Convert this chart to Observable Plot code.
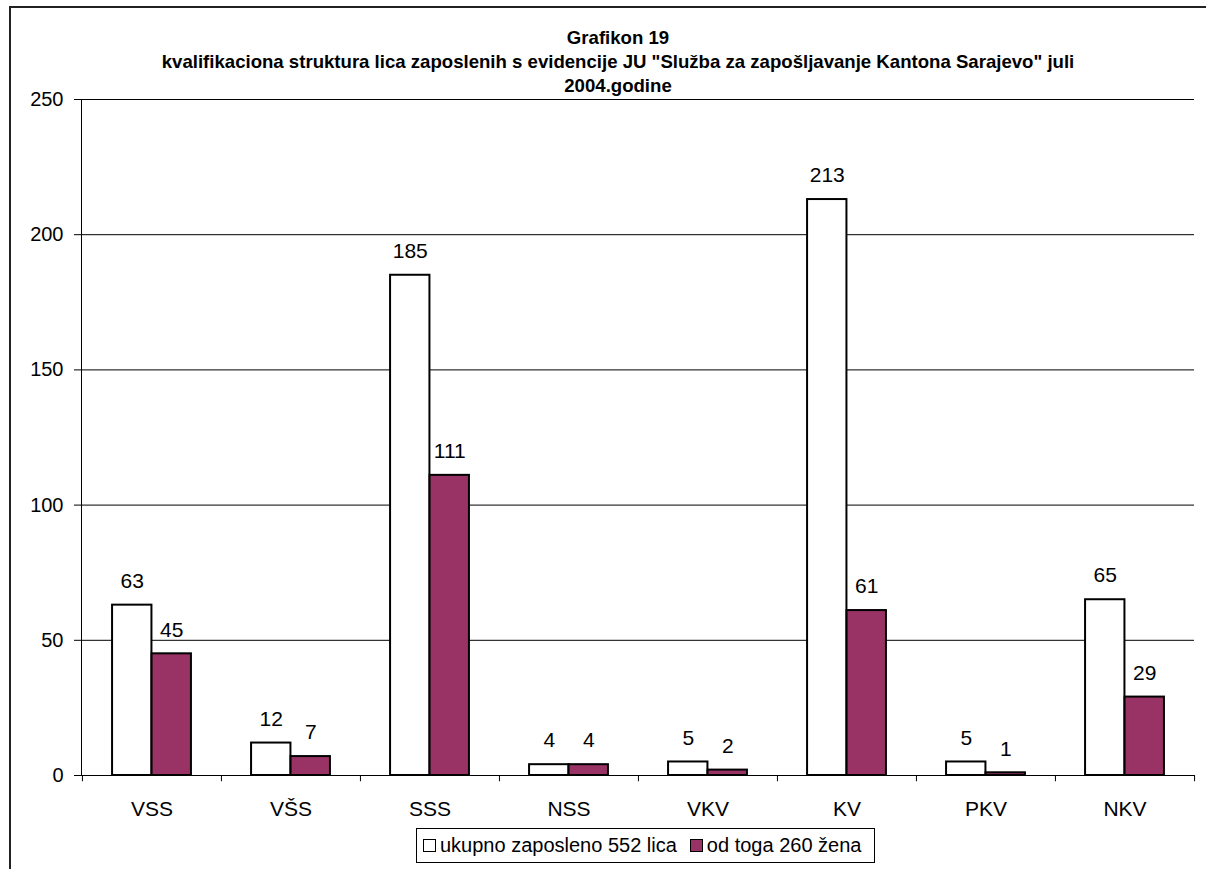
<!DOCTYPE html>
<html>
<head>
<meta charset="utf-8">
<script src="https://cdn.jsdelivr.net/npm/d3@7"></script>
<script src="https://cdn.jsdelivr.net/npm/@observablehq/plot@0.6"></script>
<style>
  html, body { margin: 0; padding: 0; background: #fff; }
  body { width: 1206px; height: 869px; overflow: hidden; font-family: "Liberation Sans", Arial, sans-serif; }
  #wrap { position: relative; width: 1206px; height: 869px; }
  #frame { position: absolute; left: 9px; top: 6px; width: 1300px; height: 1000px; border-left: 2px solid #222; border-top: 2px solid #222; box-sizing: border-box; }
  #title { position: absolute; left: 118px; width: 1000px; top: 26px; text-align: center; font-weight: bold; font-size: 18.6px; line-height: 24px; color: #000; }
  #chart { position: absolute; left: 0; top: 0; }
  #legend { position: absolute; left: 416px; top: 828px; width: 459px; height: 35px; border: 1px solid #000; box-sizing: border-box; font-size: 20px; display: flex; align-items: center; padding-left: 6px; color: #000; white-space: nowrap; }
  .sw { display: inline-block; width: 13px; height: 13px; border: 1.5px solid #000; box-sizing: border-box; margin-right: 4px; }
  .item { display: flex; align-items: center; margin-right: 13px; }
</style>
</head>
<body>
<div id="wrap">
  <div id="frame"></div>
  <div id="title"></div>
  <div id="chart"></div>
  <div id="legend"></div>
</div>
<script>
const titleLines = ["Grafikon 19", "kvalifikaciona struktura lica zaposlenih s evidencije JU \"Služba za zapošljavanje Kantona Sarajevo\" juli", "2004.godine"];
const categories = ["VSS", "VŠS", "SSS", "NSS", "VKV", "KV", "PKV", "NKV"];
const totalValues = [63, 12, 185, 4, 5, 213, 5, 65];
const womenValues = [45, 7, 111, 4, 2, 61, 1, 29];
const seriesNames = ["ukupno zaposleno 552 lica", "od toga 260 žena"];
const seriesColors = ["#ffffff", "#993366"];
const yTicks = [0, 50, 100, 150, 200, 250];

document.getElementById("title").innerHTML = titleLines.map(t => `<div>${t.replace(/</g,"&lt;")}</div>`).join("");

const W = 1206, H = 820, mL = 81, mR = 12, mT = 99, mB = 45;
const step = (W - mL - mR) / categories.length;
const barW = 39.5;
const outer = (step - 2 * barW) / 2;

const totalData = categories.map((c, i) => ({cat: c, v: totalValues[i]}));
const womenData = categories.map((c, i) => ({cat: c, v: womenValues[i]}));

const font = "Liberation Sans, Arial, sans-serif";

const chart = Plot.plot({
  width: W, height: H,
  marginLeft: mL, marginRight: mR, marginTop: mT, marginBottom: mB,
  style: {fontFamily: font, fontSize: "20px", color: "#000", background: "transparent"},
  x: {domain: categories, padding: 0, axis: null},
  y: {domain: [0, 250], axis: null},
  marks: [
    Plot.ruleY(yTicks.filter(d => d > 0), {stroke: "#000", strokeWidth: 1}),
    Plot.barY(totalData, {x: "cat", y: "v", fill: seriesColors[0], stroke: "#000", strokeWidth: 2, insetLeft: outer, insetRight: step - outer - barW}),
    Plot.barY(womenData, {x: "cat", y: "v", fill: seriesColors[1], stroke: "#000", strokeWidth: 2, insetLeft: outer + barW, insetRight: outer}),
    Plot.text(totalData, {x: "cat", y: "v", text: d => String(d.v), dx: -barW / 2, dy: -24, fontSize: 21, fill: "#000"}),
    Plot.text(womenData, {x: "cat", y: "v", text: d => String(d.v), dx: barW / 2, dy: -24, fontSize: 21, fill: "#000"}),
    Plot.ruleY([0], {stroke: "#000", strokeWidth: 1}),
    Plot.frame({anchor: "left", stroke: "#000", strokeWidth: 1}),
    Plot.ruleX(categories, {x: d => d, dx: -step / 2, y1: 0, y2: -2.3, stroke: "#000", strokeWidth: 1}),
    Plot.ruleX(categories.slice(-1), {x: d => d, dx: step / 2, y1: 0, y2: -2.3, stroke: "#000", strokeWidth: 1}),
    Plot.axisY({ticks: yTicks, tickSize: 7, tickPadding: 11, fontSize: 20, tickFormat: d => String(d), stroke: "#000", label: null}),
    Plot.axisX({tickSize: 0, tickPadding: 26, fontSize: 21, label: null})
  ]
});
document.getElementById("chart").appendChild(chart);

const legend = document.getElementById("legend");
legend.innerHTML = seriesNames.map((n, i) => `<span class="item"><span class="sw" style="background:${seriesColors[i]}"></span>${n}</span>`).join("");
</script>
</body>
</html>
